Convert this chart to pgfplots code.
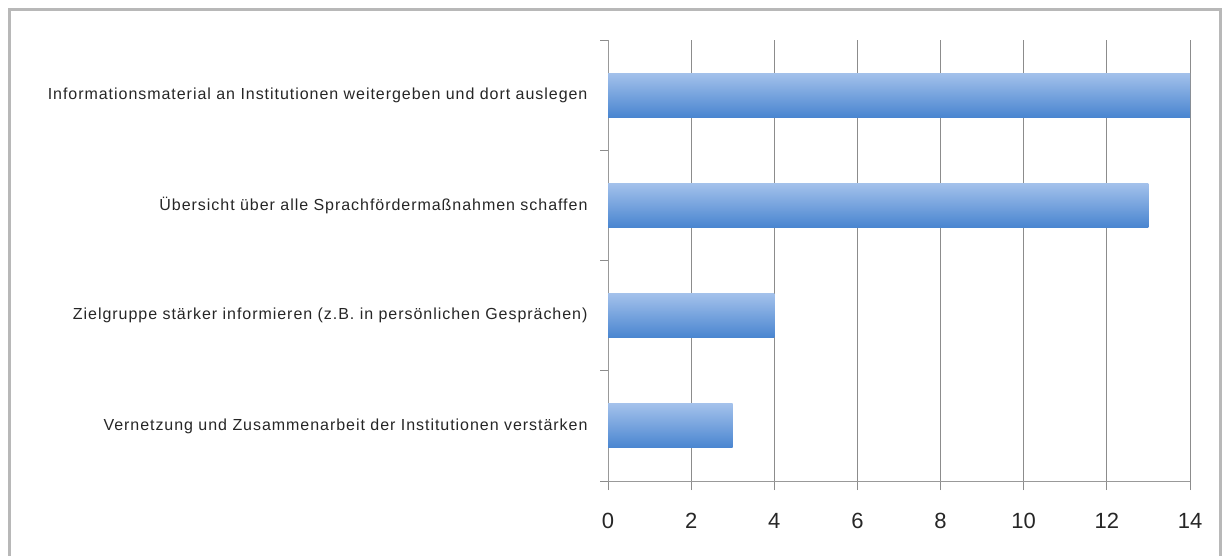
\documentclass[border=0pt]{standalone}
\usepackage{fontspec}
\setmainfont{Liberation Sans}
\usepackage{pgfplots}
\pgfplotsset{compat=1.18}
\definecolor{bartop}{HTML}{A3C1EB}
\definecolor{barmid}{HTML}{76A2DC}
\definecolor{barbot}{HTML}{4985D0}
\begin{document}
\begin{tikzpicture}[x=1pt,y=1pt]
\path[use as bounding box] (0,0) rectangle (1228,555);
\draw[line width=3pt, color=black!28] (9,-5) -- (9,545) -- (1220,545) -- (1220,-5);
\begin{axis}[
  at={(608pt,74pt)}, anchor=south west, scale only axis,
  width=582pt, height=441pt,
  xbar, bar width=44pt, bar shift=0pt,
  xmin=0, xmax=14, ymin=-0.5, ymax=3.5,
  xtick={0,2,...,14}, ytick={0,1,2,3},
  yticklabels={Vernetzung und Zusammenarbeit der Institutionen verstärken,
    {Zielgruppe stärker informieren (z.B. in persönlichen Gesprächen)},
    Übersicht über alle Sprachfördermaßnahmen schaffen,
    Informationsmaterial an Institutionen weitergeben und dort auslegen},
  minor ytick={-0.5,0.5,1.5,2.5,3.5},
  axis x line*=bottom, axis y line*=left,
  axis line style={black!40, line width=1pt},
  xmajorgrids, grid style={black!45, line width=1pt},
  xtick align=outside, ytick align=outside,
  major tick length=9pt, minor tick length=8pt,
  major y tick style={draw=none},
  major x tick style={draw=black!45, line width=1pt},
  minor y tick style={draw=black!45, line width=1pt},
  /pgf/number format/assume math mode=true,
  xticklabel style={font=\fontsize{22}{26}\selectfont, text=black!85, yshift=-20pt},
  yticklabel style={font=\fontsize{16}{19}\selectfont\addfontfeatures{LetterSpace=6}, text=black!85, xshift=-8pt},
]
\addplot[draw=none, top color=bartop, middle color=barmid, bottom color=barbot] coordinates {(3,0)};
\addplot[draw=none, top color=bartop, middle color=barmid, bottom color=barbot] coordinates {(4,1)};
\addplot[draw=none, top color=bartop, middle color=barmid, bottom color=barbot] coordinates {(13,2)};
\addplot[draw=none, top color=bartop, middle color=barmid, bottom color=barbot] coordinates {(14,3)};
\end{axis}
\end{tikzpicture}
\end{document}
